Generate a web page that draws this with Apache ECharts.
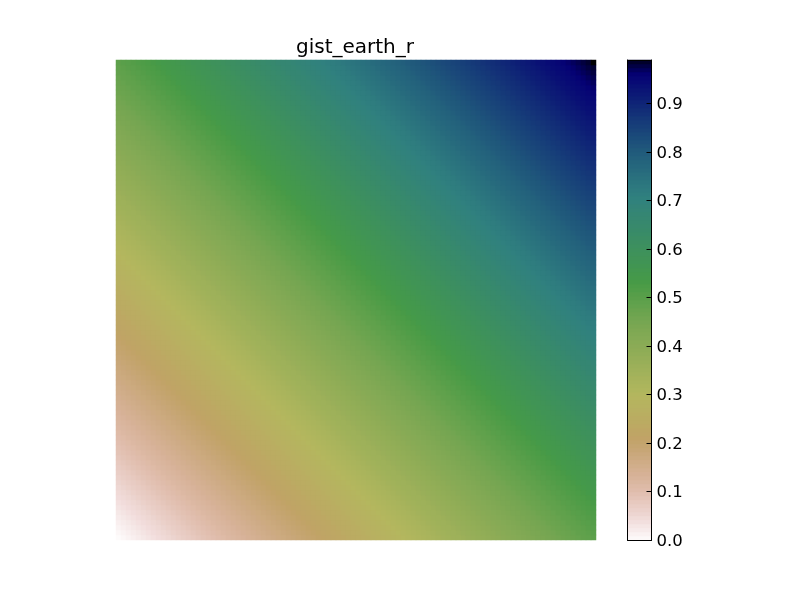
<!DOCTYPE html>
<html><head><meta charset="utf-8">
<script src="https://cdn.jsdelivr.net/npm/echarts@6/dist/echarts.min.js"></script>
<style>html,body{margin:0;padding:0;background:#fff}#c{width:800px;height:600px}</style>
</head><body><div id="c"></div>
<script>
const chartTitle = 'gist_earth_r';
const tickLabels = [0,0.1,0.2,0.3,0.4,0.5,0.6,0.7,0.8,0.9];
const cellCount = 96;
// values read along the diagonal, from bottom-left corner to top-right corner
const diagonalValues = [
0,.005,.01,.016,.021,.026,.031,.036,.042,.047,
.052,.057,.063,.068,.073,.078,.083,.089,.094,.099,
.104,.109,.115,.12,.125,.13,.135,.141,.146,.151,
.156,.162,.167,.172,.177,.182,.188,.193,.198,.203,
.208,.214,.219,.224,.229,.234,.24,.245,.25,.255,
.26,.266,.271,.276,.281,.287,.292,.297,.302,.307,
.313,.318,.323,.328,.333,.339,.344,.349,.354,.359,
.365,.37,.375,.38,.386,.391,.396,.401,.406,.412,
.417,.422,.427,.432,.438,.443,.448,.453,.458,.464,
.469,.474,.479,.485,.49,.495,.5,.505,.511,.516,
.521,.526,.531,.537,.542,.547,.552,.557,.563,.568,
.573,.578,.584,.589,.594,.599,.604,.61,.615,.62,
.625,.63,.636,.641,.646,.651,.656,.662,.667,.672,
.677,.683,.688,.693,.698,.703,.709,.714,.719,.724,
.729,.735,.74,.745,.75,.755,.761,.766,.771,.776,
.782,.787,.792,.797,.802,.808,.813,.818,.823,.828,
.834,.839,.844,.849,.854,.86,.865,.87,.875,.881,
.886,.891,.896,.901,.907,.912,.917,.922,.927,.933,
.938,.943,.948,.953,.959,.964,.969,.974,.98,.985,.99];
// colour bar levels, bottom to top
const barLevels = [
.004,.012,.021,.029,.037,.045,.054,.062,.07,.078,
.087,.095,.103,.111,.12,.128,.136,.144,.153,.161,
.169,.177,.186,.194,.202,.21,.219,.227,.235,.243,
.252,.26,.268,.276,.285,.293,.301,.309,.318,.326,
.334,.342,.351,.359,.367,.375,.384,.392,.4,.408,
.417,.425,.433,.441,.45,.458,.466,.474,.483,.491,
.499,.507,.516,.524,.532,.54,.549,.557,.565,.573,
.582,.59,.598,.606,.615,.623,.631,.639,.648,.656,
.664,.672,.681,.689,.697,.705,.714,.722,.73,.738,
.747,.755,.763,.771,.78,.788,.796,.804,.813,.821,
.829,.837,.846,.854,.862,.87,.879,.887,.895,.903,
.912,.92,.928,.936,.945,.953,.961,.969,.978,.986];

// gist_earth colour stops [position, value]; the palette is sampled reversed below
const redStops = [[0,0],[.2824,.1882],[.4588,.2714],[.549,.4719],[.698,.704],[.7882,.7553],[1,.9922]];
const greenStops = [[0,0],[.0275,0],[.1098,.1893],[.1647,.3035],[.2078,.3841],[.2824,.502],[.5216,.6397],[.698,.7171],[.7882,.6392],[.7922,.6413],[.8,.6447],[.8078,.6481],[.8157,.6549],[.8667,.6991],[.8745,.7103],[.8824,.7216],[.8902,.7323],[.898,.743],[.9412,.8275],[.9569,.8635],[.9647,.8816],[.9961,.9733],[1,.9843]];
const blueStops = [[0,0],[.0039,.1684],[.0078,.2212],[.0275,.4329],[.0314,.4549],[.2824,.5004],[.4667,.2748],[.5451,.3205],[.7843,.3961],[.8941,.6651],[1,.9843]];
function sample(stops, t){
  for(let k=1;k<stops.length;k++){
    if(t<=stops[k][0]){
      const a=stops[k-1],b=stops[k];
      return a[1]+(b[1]-a[1])*(t-a[0])/(b[0]-a[0]);
    }
  }
  return stops[stops.length-1][1];
}
const palette=[];
for(let k=0;k<=255;k++){
  const t=1-k/255;
  palette.push('rgb('+[redStops,greenStops,blueStops].map(s=>Math.round(sample(s,t)*255)).join(',')+')');
}

const imageCells=[];
for(let row=0;row<cellCount;row++){
  for(let col=0;col<cellCount;col++){
    imageCells.push([col,row,diagonalValues[row+col]]);
  }
}
const barCells=barLevels.map((v,i)=>[0,i,v]);
const idx=n=>Array.from({length:n},(_,i)=>i);
const frameLine={show:true,onZero:false,lineStyle:{color:'#000',width:1}};

const chart=echarts.init(document.getElementById('c'),null,{renderer:'canvas'});
chart.setOption({
  animation:false,
  backgroundColor:'#fff',
  title:{text:chartTitle,left:350,top:33,textAlign:'center',
    textStyle:{fontFamily:'DejaVu Sans',fontSize:20,fontWeight:'normal',color:'#000'}},
  tooltip:{show:false},
  grid:[
    {left:116,top:60,width:480,height:480},
    {left:627.5,top:60,width:24,height:480}
  ],
  xAxis:[
    {type:'category',gridIndex:0,data:idx(cellCount),show:false},
    {type:'category',gridIndex:1,data:[0],position:'bottom',z:10,axisLine:frameLine,axisTick:{show:false},axisLabel:{show:false}},
    {type:'category',gridIndex:1,data:[0],position:'top',z:10,axisLine:frameLine,axisTick:{show:false},axisLabel:{show:false}}
  ],
  yAxis:[
    {type:'category',gridIndex:0,data:idx(cellCount),show:false},
    {type:'category',gridIndex:1,data:idx(barLevels.length),position:'left',z:10,axisLine:frameLine,axisTick:{show:false},axisLabel:{show:false}},
    {type:'value',gridIndex:1,min:0,max:0.99,position:'right',z:10,splitLine:{show:false},
      axisLine:frameLine,
      axisTick:{show:true,inside:true,length:5,customValues:tickLabels,lineStyle:{color:'#000',width:1}},
      axisLabel:{show:true,inside:false,margin:5,verticalAlign:'top',lineHeight:3,customValues:tickLabels,formatter:v=>v.toFixed(1),
        fontFamily:'DejaVu Sans',fontSize:16.5,color:'#000'}}
  ],
  visualMap:{show:false,type:'continuous',min:0,max:0.99,seriesIndex:[0,1],dimension:2,inRange:{color:palette}},
  series:[
    {type:'heatmap',xAxisIndex:0,yAxisIndex:0,data:imageCells,progressive:0,silent:true,itemStyle:{borderWidth:0}},
    {type:'heatmap',xAxisIndex:1,yAxisIndex:1,data:barCells,progressive:0,silent:true,itemStyle:{borderWidth:0}}
  ]
});
</script></body></html>
